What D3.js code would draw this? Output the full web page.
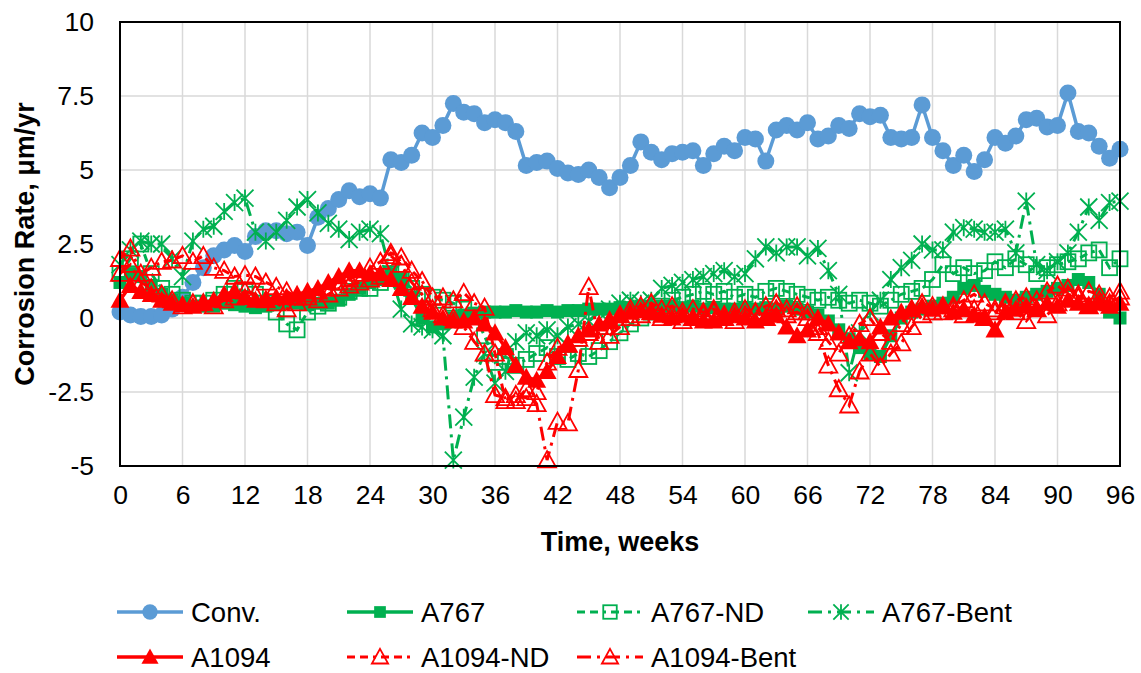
<!DOCTYPE html>
<html>
<head>
<meta charset="utf-8">
<script src="https://cdn.jsdelivr.net/npm/d3@7"></script>
<style>
  body { margin: 0; background: #fff; }
  text { font-family: "Liberation Sans", Arial, sans-serif; fill: #000; }
</style>
</head>
<body>
<svg id="chart" width="1141" height="673"></svg>
<script>
// weekly readings, week 0 .. 96
var weeks = d3.range(0, 97);

var conv = [0.2, 0.1, 0.05, 0.05, 0.1, 0.3, 0.7, 1.2, 1.7, 2.1, 2.3, 2.45,
  2.25, 2.75, 2.95, 2.95, 2.85, 2.9, 2.45, 3.4, 3.7, 4.0, 4.3, 4.1,
  4.2, 4.05, 5.35, 5.25, 5.5, 6.25, 6.1, 6.5, 7.25, 6.95, 6.9, 6.6,
  6.7, 6.6, 6.3, 5.15, 5.25, 5.3, 5.05, 4.9, 4.85, 5.0, 4.75, 4.4,
  4.75, 5.15, 5.95, 5.6, 5.35, 5.55, 5.6, 5.65, 5.15, 5.55, 5.8, 5.65,
  6.1, 6.05, 5.3, 6.35, 6.5, 6.35, 6.6, 6.05, 6.15, 6.5, 6.4, 6.9,
  6.8, 6.85, 6.1, 6.05, 6.1, 7.2, 6.1, 5.65, 5.15, 5.5, 4.95, 5.35,
  6.1, 5.9, 6.15, 6.7, 6.75, 6.45, 6.5, 7.6, 6.3, 6.25, 5.8, 5.4, 5.7];

var a767 = [1.2, 1.5, 1.4, 1.1, 0.8, 0.6, 0.5, 0.4, 0.4, 0.4, 0.5, 0.45,
  0.4, 0.35, 0.4, 0.45, 0.5, 0.5, 0.45, 0.5, 0.5, 0.6, 0.8, 1.0,
  1.2, 1.3, 1.5, 1.3, 0.7, 0.0, -0.3, -0.2, 0.0, 0.1, 0.15, 0.2,
  0.2, 0.2, 0.25, 0.2, 0.2, 0.25, 0.2, 0.25, 0.25, 0.3, 0.3, 0.3,
  0.35, 0.35, 0.4, 0.35, 0.4, 0.4, 0.35, 0.4, 0.3, 0.35, 0.3, 0.3,
  0.35, 0.3, 0.35, 0.3, 0.4, 0.3, 0.2, 0.1, -0.1, -0.4, -0.7, -1.0,
  -1.2, -1.3, -0.6, 0.0, 0.2, 0.3, 0.4, 0.5, 0.7, 1.0, 1.1, 0.9,
  0.8, 0.7, 0.6, 0.7, 0.8, 0.9, 1.0, 1.1, 1.3, 1.2, 0.8, 0.2, 0.0];

var a767nd = [1.5, 2.0, 2.5, 1.5, 1.0, 0.8, 0.6, 0.5, 0.5, 0.6, 0.8, 1.0,
  0.9, 0.8, 0.5, 0.2, -0.2, -0.4, 0.2, 0.4, 0.5, 0.7, 0.9, 1.0,
  1.0, 1.2, 1.5, 1.3, 1.0, 0.8, 0.7, 0.6, 0.5, 0.3, 0.1, -0.6,
  -1.5, -1.3, -1.6, -1.4, -1.2, -1.0, -1.3, -1.4, -1.2, -1.3, -1.1, -0.8,
  -0.5, -0.2, 0.0, 0.2, 0.4, 0.6, 0.7, 0.8, 0.9, 0.8, 0.9, 0.7,
  0.8, 0.7, 0.9, 1.0, 0.9, 0.8, 0.7, 0.6, 0.7, 0.6, 0.5, 0.6,
  0.5, 0.4, 0.6, 0.8, 0.9, 1.0, 1.3, 1.8, 1.5, 1.7, 1.5, 1.6,
  1.9, 1.7, 2.0, 1.8, 1.5, 1.7, 1.8, 1.9, 2.0, 2.2, 2.3, 1.7, 2.0];

var a767bent = [1.8, 2.3, 2.6, 2.5, 2.5, 2.0, 1.4, 2.6, 3.0, 3.1, 3.6, 3.9,
  4.05, 2.9, 2.6, 2.9, 3.3, 3.75, 4.0, 3.55, 3.2, 3.0, 2.65, 2.9,
  3.0, 2.85, 1.5, 0.3, -0.2, -0.3, -0.4, -0.6, -4.8, -3.35, -2.0, -1.2,
  -2.2, -1.8, -0.8, -0.5, -0.6, -0.4, -0.6, -0.3, -0.2, -0.1, 0.2, 0.3,
  0.5, 0.6, 0.5, 0.6, 1.0, 1.1, 1.2, 1.3, 1.4, 1.5, 1.6, 1.4,
  1.5, 2.0, 2.4, 2.2, 2.4, 2.4, 2.1, 2.35, 1.6, 0.8, -1.85, -0.5,
  0.2, 0.6, 1.3, 1.7, 1.95, 2.5, 2.3, 2.3, 2.9, 3.05, 3.0, 2.9,
  2.9, 3.0, 2.2, 3.95, 1.8, 1.6, 1.9, 2.2, 2.9, 3.75, 3.3, 3.9, 3.95];

var a1094 = [0.6, 1.1, 0.9, 0.8, 0.6, 0.5, 0.45, 0.4, 0.5, 0.6, 0.8, 0.9,
  0.7, 0.6, 0.6, 0.7, 0.7, 0.8, 0.9, 1.0, 1.2, 1.4, 1.6, 1.6,
  1.5, 1.5, 1.3, 1.0, 0.7, 0.4, 0.2, 0.0, -0.1, -0.1, 0.0, -0.2,
  -0.5, -1.0, -1.6, -2.0, -2.1, -1.8, -1.3, -0.9, -0.6, -0.4, -0.2, -0.1,
  0.1, 0.2, 0.25, 0.2, 0.1, 0.0, 0.1, 0.0, -0.1, -0.1, 0.0, 0.1,
  0.0, -0.1, 0.0, 0.1, -0.3, -0.6, -0.4, 0.0, -0.2, -0.5, -0.8, -0.7,
  -0.8, -0.3, 0.0, 0.2, 0.3, 0.4, 0.3, 0.4, 0.2, 0.3, 0.1, 0.0,
  -0.4, 0.2, 0.3, 0.4, 0.3, 0.5, 0.4, 0.6, 0.5, 0.4, 0.5, 0.4, 0.5];

var a1094nd = [2.0, 2.35, 1.5, 1.7, 1.9, 1.95, 2.1, 1.9, 2.1, 1.7, 1.6, 1.4,
  1.45, 1.4, 1.2, 1.05, 0.9, 0.7, 0.8, 0.9, 1.0, 1.2, 1.3, 1.5,
  1.7, 1.9, 2.2, 2.05, 1.6, 1.25, 0.7, 0.7, 0.6, 0.85, 0.5, 0.35,
  -1.2, -2.8, -2.6, -2.7, -2.5, -1.5, -1.0, -0.9, -0.7, -0.5, -0.3, -0.1,
  0.1, 0.3, 0.4, 0.5, 0.3, 0.4, 0.2, 0.3, 0.2, 0.3, 0.1, 0.2,
  0.3, 0.2, 0.4, 0.5, 0.3, 0.4, 0.2, -0.3, -0.8, -1.2, -0.6, -0.2,
  0.0, -0.5, -0.8, -0.2, 0.3, 0.5, 0.4, 0.2, 0.4, 0.6, 0.8, 0.5,
  0.3, 0.5, 0.6, 0.7, 0.6, 0.9, 1.1, 0.8, 0.7, 0.9, 0.8, 0.7, 0.9];

var a1094bent = [1.5, 1.8, 1.2, 1.0, 0.8, 0.6, 0.4, 0.5, 0.5, 0.4, 0.6, 0.7,
  0.9, 0.8, 0.6, 0.5, 0.3, 0.5, 0.7, 0.6, 0.8, 1.0, 1.1, 1.2,
  1.3, 1.4, 2.1, 1.8, 1.2, 0.8, 0.3, 0.1, 0.0, -0.3, -0.8, -1.2,
  -2.6, -2.7, -2.8, -2.4, -2.9, -4.8, -3.5, -3.55, -1.75, 1.05, -0.8, -0.6,
  -0.3, 0.0, 0.1, 0.2, 0.0, 0.1, -0.1, 0.0, 0.1, 0.2, 0.0, -0.1,
  0.1, 0.2, 0.0, 0.3, 0.1, 0.2, 0.0, -0.5, -1.6, -2.4, -2.95, -1.8,
  -1.2, -1.65, -1.2, -0.85, -0.3, 0.1, 0.2, 0.4, 0.3, 0.1, 0.3, 0.0,
  0.2, 0.4, 0.2, -0.1, 0.3, 0.1, 0.5, 1.0, 0.8, 0.4, 0.6, 0.5, 0.7];

var xTicks = d3.range(0, 97, 6);
var yTicks = [-5, -2.5, 0, 2.5, 5, 7.5, 10];

var blue = "#5B9BD5", green = "#00B050", red = "#FF0000";

// legend order = drawing order
var series = [
  {name: "Conv.", values: conv, color: blue, dash: null, marker: "circle", col: 0, row: 0},
  {name: "A767", values: a767, color: green, dash: null, marker: "square", col: 1, row: 0},
  {name: "A767-ND", values: a767nd, color: green, dash: "8,5,8,5,3,5", marker: "squareOpen", col: 2, row: 0},
  {name: "A767-Bent", values: a767bent, color: green, dash: "14,6,3,6", marker: "star", col: 3, row: 0},
  {name: "A1094", values: a1094, color: red, dash: null, marker: "triangle", col: 0, row: 1},
  {name: "A1094-ND", values: a1094nd, color: red, dash: "8,5,8,5,3,5", marker: "triangleOpen", col: 1, row: 1},
  {name: "A1094-Bent", values: a1094bent, color: red, dash: "14,6,3,6", marker: "triangleOpen", col: 2, row: 1}
];

var svg = d3.select("#chart");
var x = d3.scaleLinear().domain([0, 96]).range([120, 1120]);
var y = d3.scaleLinear().domain([-5, 10]).range([466, 22]);

// gridlines
svg.append("g").selectAll("line.gx")
  .data(xTicks).enter().append("line")
  .attr("x1", d => x(d)).attr("x2", d => x(d))
  .attr("y1", y(10)).attr("y2", y(-5))
  .attr("stroke", "#D9D9D9").attr("stroke-width", 1.5);
svg.append("g").selectAll("line.gy")
  .data(yTicks).enter().append("line")
  .attr("x1", x(0)).attr("x2", x(96))
  .attr("y1", d => y(d)).attr("y2", d => y(d))
  .attr("stroke", "#D9D9D9").attr("stroke-width", 1.5);

// axes (labels only, no tick marks)
var xAxis = d3.axisBottom(x).tickValues(xTicks).tickSize(0).tickPadding(19);
var yAxis = d3.axisLeft(y).tickValues(yTicks).tickSize(0).tickPadding(26)
  .tickFormat(d => String(d));

var gx = svg.append("g").attr("transform", "translate(0," + y(-5) + ")").call(xAxis);
var gy = svg.append("g").attr("transform", "translate(" + x(0) + ",0)").call(yAxis);
[gx, gy].forEach(g => {
  g.select(".domain").remove();
  g.selectAll("text").style("font-size", "26.5px").style("font-family", "'Liberation Sans', Arial, sans-serif");
});

// marker drawing
function drawMarker(g, type, color, px, py, k) {
  k = k || 1;
  if (type === "circle") {
    g.append("circle").attr("cx", px).attr("cy", py).attr("r", 8.5 * k).attr("fill", color);
  } else if (type === "square") {
    var h = 6.5 * k;
    g.append("rect").attr("x", px - h).attr("y", py - h).attr("width", 2 * h).attr("height", 2 * h).attr("fill", color);
  } else if (type === "squareOpen") {
    var h2 = 7.5 * k;
    g.append("rect").attr("x", px - h2).attr("y", py - h2).attr("width", 2 * h2).attr("height", 2 * h2)
      .attr("fill", "none").attr("stroke", color).attr("stroke-width", 1.8);
  } else if (type === "star") {
    var r = 8.5 * k;
    g.append("path")
      .attr("d", "M" + (px - r) + "," + (py - r) + "L" + (px + r) + "," + (py + r) +
        "M" + (px - r) + "," + (py + r) + "L" + (px + r) + "," + (py - r) +
        "M" + px + "," + (py - r) + "L" + px + "," + (py + r))
      .attr("stroke", color).attr("stroke-width", 1.8).attr("fill", "none");
  } else if (type === "triangle" || type === "triangleOpen") {
    var s = (type === "triangle" ? 9.5 : 9) * k;
    var p = "M" + px + "," + (py - s) + "L" + (px + s) + "," + (py + s * 0.8) + "L" + (px - s) + "," + (py + s * 0.8) + "Z";
    var t = g.append("path").attr("d", p);
    if (type === "triangle") t.attr("fill", color);
    else t.attr("fill", "none").attr("stroke", color).attr("stroke-width", 1.8);
  }
}

var line = d3.line().x((d, i) => x(weeks[i])).y(d => y(d));

series.forEach(s => {
  var g = svg.append("g");
  g.append("path")
    .attr("d", line(s.values))
    .attr("fill", "none")
    .attr("stroke", s.color)
    .attr("stroke-width", s.dash ? 3 : 3.5)
    .attr("stroke-dasharray", s.dash);
  s.values.forEach((v, i) => drawMarker(g, s.marker, s.color, x(weeks[i]), y(v)));
});

// plot border
svg.append("rect")
  .attr("x", x(0)).attr("y", y(10))
  .attr("width", x(96) - x(0)).attr("height", y(-5) - y(10))
  .attr("fill", "none").attr("stroke", "#000").attr("stroke-width", 2);

// axis titles
svg.append("text")
  .attr("x", 620).attr("y", 551)
  .attr("text-anchor", "middle")
  .style("font-size", "27px").style("font-weight", "bold")
  .text("Time, weeks");
svg.append("text")
  .attr("transform", "translate(34,244) rotate(-90)")
  .attr("text-anchor", "middle")
  .style("font-size", "27px").style("font-weight", "bold")
  .text("Corrosion Rate, μm/yr");

// legend
var legX = [117, 347, 577, 808], legY = [612, 657];
series.forEach(s => {
  var lx = legX[s.col], ly = legY[s.row];
  var g = svg.append("g");
  g.append("line")
    .attr("x1", lx).attr("x2", lx + 66).attr("y1", ly).attr("y2", ly)
    .attr("stroke", s.color).attr("stroke-width", s.dash ? 3 : 3.5)
    .attr("stroke-dasharray", s.dash);
  drawMarker(g, s.marker, s.color, lx + 33, ly, 0.9);
  g.append("text")
    .attr("x", lx + 74).attr("y", ly + 9.5)
    .style("font-size", "27.5px")
    .text(s.name);
});
</script>
</body>
</html>
